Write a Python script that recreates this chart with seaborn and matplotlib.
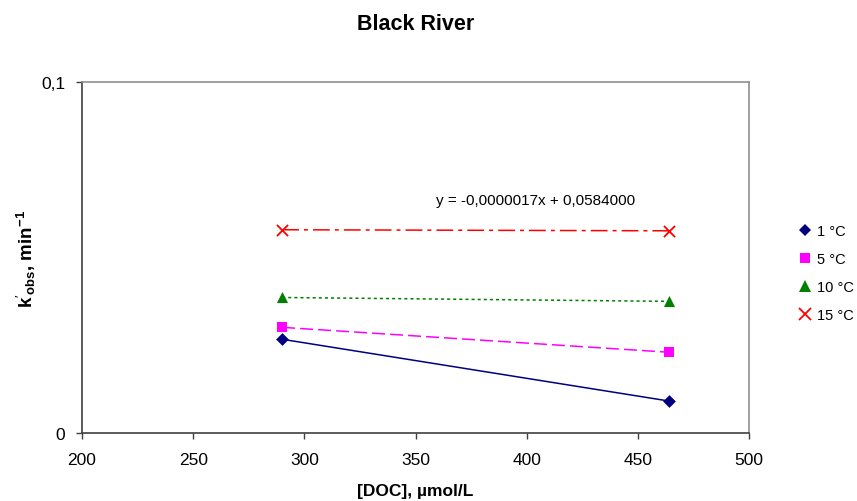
import matplotlib
matplotlib.use("Agg")
import matplotlib.pyplot as plt
from matplotlib.lines import Line2D
from matplotlib.ticker import FixedLocator, FuncFormatter
import seaborn as sns
import pandas as pd

# ---- data ----
doc = [290, 464]
k_1C = [0.0267, 0.0091]
k_5C = [0.0301, 0.0230]
k_10C = [0.0386, 0.0375]
k_15C = [0.0579, 0.0576]
series_labels = ["1 °C", "5 °C", "10 °C", "15 °C"]
x_ticks = [200, 250, 300, 350, 400, 450, 500]
y_ticks = [0, 0.1]
title = "Black River"
x_label = "[DOC], µmol/L"
equation = "y = -0,0000017x + 0,0584000"

sns.set_theme(style="white")
plt.rcParams["font.family"] = ["Liberation Sans", "DejaVu Sans"]
plt.rcParams["text.color"] = "black"
plt.rcParams["axes.labelcolor"] = "black"
plt.rcParams["mathtext.fontset"] = "custom"
plt.rcParams["mathtext.rm"] = "Liberation Sans"
plt.rcParams["mathtext.it"] = "Liberation Sans:bold"
plt.rcParams["mathtext.bf"] = "Liberation Sans:bold"

fig = plt.figure(figsize=(8.57, 5.02), dpi=100)
ax = fig.add_axes([0.0957, 0.1355, 0.7783, 0.6992])

colors = ["#000080", "#FF00FF", "#008000", "#FF0000"]
markers = ["D", "s", "^", "x"]
msizes = [6.5, 7, 8, 8]
styles = ["-", (0, (8.5, 3.3)), (0, (2, 2)), (0, (11, 3.3, 2.6, 3.3))]

df = pd.DataFrame({
    "doc": doc * 4,
    "k": k_1C + k_5C + k_10C + k_15C,
    "T": sum([[lab] * len(doc) for lab in series_labels], []),
})

handles = []
for lab, c, m, ms, ls in zip(series_labels, colors, markers, msizes, styles):
    sub = df[df["T"] == lab]
    sns.lineplot(data=sub, x="doc", y="k", ax=ax, color=c, linewidth=1.1,
                 linestyle=ls, legend=False)
    sns.scatterplot(data=sub, x="doc", y="k", ax=ax, color=c, marker=m,
                    s=ms ** 2, linewidth=1.3 if m == "x" else 0,
                    edgecolor=c, legend=False, zorder=5)
    handles.append(Line2D([], [], color=c, marker=m, markersize=ms,
                          markeredgewidth=1.3 if m == "x" else 0,
                          linestyle="none", label=lab))

ax.set_xlim(200, 500)
ax.set_ylim(0, 0.1)
ax.xaxis.set_major_locator(FixedLocator(x_ticks))
ax.yaxis.set_major_locator(FixedLocator(y_ticks))
ax.yaxis.set_major_formatter(FuncFormatter(lambda v, p: ("%g" % v).replace(".", ",")))
ax.tick_params(axis="both", direction="out", length=4, width=1, color="#404040",
               labelsize=12.5, labelcolor="black")
ax.tick_params(axis="x", bottom=True, pad=10)
ax.tick_params(axis="y", left=True, pad=8)

for s in ["left", "bottom"]:
    ax.spines[s].set_color("#404040")
    ax.spines[s].set_linewidth(1.2)
for s in ["top", "right"]:
    ax.spines[s].set_color("#909090")
    ax.spines[s].set_linewidth(1.2)

ax.set_title(title, fontsize=15.5, fontweight="bold", pad=38, color="black")
ax.set_xlabel(x_label, fontsize=12.5, fontweight="bold")
ax.xaxis.label.set_verticalalignment("center")
ax.xaxis.set_label_coords(0.5, (434 - 492) / 351.0)
ax.set_ylabel(r"$\mathbf{k}'_{\mathbf{obs}}$, min$^{\mathbf{-1}}$", fontsize=13.5,
              fontweight="bold")
ax.yaxis.set_label_coords((38 - 82) / 667.0, 0.5)

ax.text(404, 0.0665, equation, fontsize=11, ha="center", va="center")

leg = ax.legend(handles=handles, loc="center left", bbox_to_anchor=(1.065, 0.455),
                frameon=False, fontsize=10.5, handletextpad=0.3, labelspacing=0.95,
                handlelength=1.0, borderaxespad=0)

fig.savefig("out.png", dpi=100)
